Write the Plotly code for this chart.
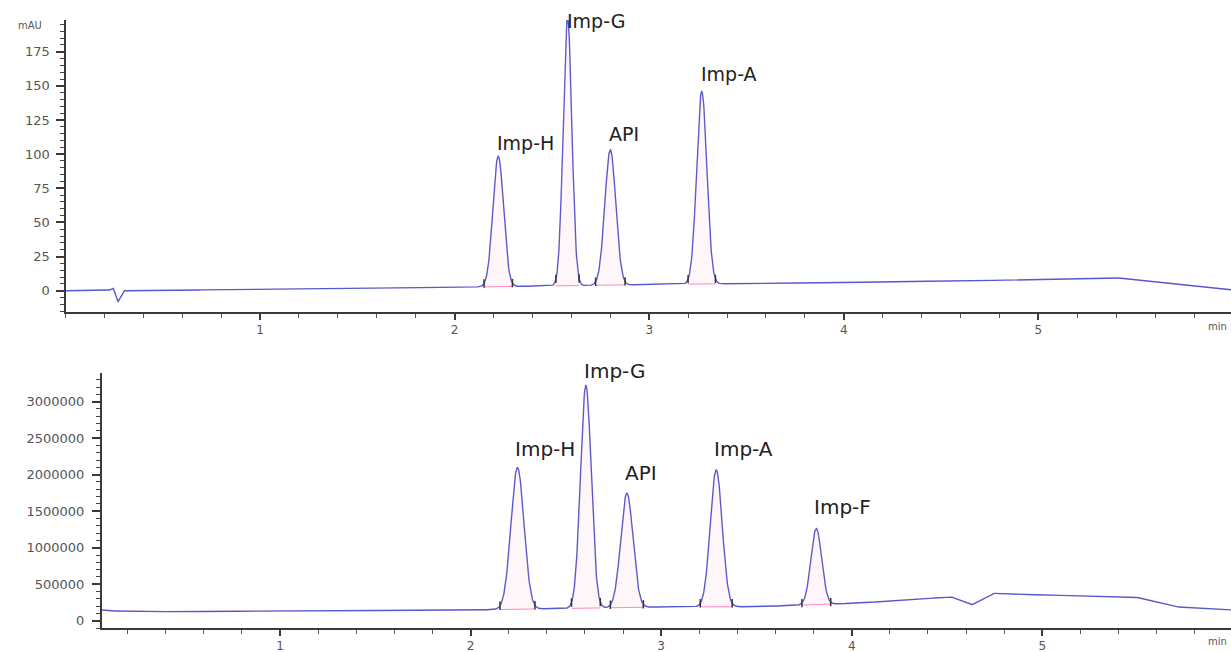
import numpy as np
import plotly.graph_objects as go

# ---------------- data ----------------
# Top chromatogram (UV, mAU)
top_names = ["Imp-H", "Imp-G", "API", "Imp-A"]
top_rt = [2.224, 2.58, 2.80, 3.27]          # retention time, min
top_height = [95.5, 197.0, 99.0, 141.0]     # height above baseline, mAU
top_sigma = [0.027, 0.022, 0.028, 0.026]    # peak width (sigma), min
top_label_y = [98.5, 188.0, 105.0, 149.0]   # label bottom, mAU
top_base_t = [0.0, 0.22, 0.245, 0.27, 0.30, 1.0, 2.0, 3.0, 4.0, 5.0, 5.4, 6.0]
top_base_v = [0.0, 0.0, 2.0, -8.0, 0.0, 1.0, 2.5, 4.5, 6.0, 8.0, 9.5, 0.5]

# Bottom chromatogram (MS, counts)
bot_names = ["Imp-H", "Imp-G", "API", "Imp-A", "Imp-F"]
bot_rt = [2.246, 2.605, 2.82, 3.289, 3.814]
bot_height = [1940000, 3050000, 1565000, 1875000, 1040000]
bot_sigma = [0.034, 0.028, 0.032, 0.031, 0.028]
bot_label_y = [2160000, 3230000, 1830000, 2160000, 1360000]
bot_base_t = [0.066, 0.1, 0.3, 2.0, 3.0, 3.5, 4.0, 4.3, 4.52, 4.63, 4.74, 5.0, 5.48, 5.69, 6.0]
bot_base_v = [146000, 135000, 123000, 147000, 188000, 192000, 238000, 283000, 329000,
              215000, 375000, 352000, 329000, 192000, 147000]

top_yticks = [0, 25, 50, 75, 100, 125, 150, 175]
bot_yticks = [0, 500000, 1000000, 1500000, 2000000, 2500000, 3000000]
x_ticks = [1, 2, 3, 4, 5]

# ---------------- build curves ----------------
def build(t, rts, hs, sg, bt, bv):
    base = np.interp(t, bt, bv)
    y = base.copy()
    for r, h, s in zip(rts, hs, sg):
        y = y + h * np.exp(-0.5 * ((t - r) / s) ** 2)
    return base, y

t_top = np.linspace(0.0, 5.99, 3000)
t_bot = np.linspace(0.066, 5.99, 3000)
base_top, y_top = build(t_top, top_rt, top_height, top_sigma, top_base_t, top_base_v)
base_bot, y_bot = build(t_bot, bot_rt, bot_height, bot_sigma, bot_base_t, bot_base_v)

LINE = "rgb(88,88,205)"
PINK = "rgba(255,120,190,0.9)"
AX = "#3a3a3a"
TXT = "#555555"
FONT = "DejaVu Sans"

fig = go.Figure()

def add_panel(t, base, y, rts, sg, xa, ya):
    fig.add_trace(go.Scatter(x=t, y=y, mode="lines", line=dict(color=LINE, width=1.4),
                             xaxis=xa, yaxis=ya, showlegend=False, hoverinfo="skip"))
    for r, s in zip(rts, sg):
        a, b = r - 2.7 * s, r + 2.7 * s
        m = (t >= a) & (t <= b)
        fig.add_trace(go.Scatter(x=t[m], y=base[m], mode="lines", line=dict(color=PINK, width=1),
                                 xaxis=xa, yaxis=ya, showlegend=False, hoverinfo="skip"))
        fig.add_trace(go.Scatter(x=t[m], y=y[m], mode="lines", line=dict(width=0),
                                 fill="tonexty", fillcolor="rgba(255,150,200,0.09)",
                                 xaxis=xa, yaxis=ya, showlegend=False, hoverinfo="skip"))
        fig.add_trace(go.Scatter(x=[a, b], y=list(np.interp([a, b], t, y)), mode="markers",
                                 marker=dict(symbol="line-ns", size=6, line=dict(color="#333", width=1.5)),
                                 xaxis=xa, yaxis=ya, showlegend=False, hoverinfo="skip"))

add_panel(t_top, base_top, y_top, top_rt, top_sigma, "x", "y")
add_panel(t_bot, base_bot, y_bot, bot_rt, bot_sigma, "x2", "y2")

for n, r, ly in zip(top_names, top_rt, top_label_y):
    fig.add_annotation(x=r, y=ly, xref="x", yref="y", text=n, showarrow=False,
                       xanchor="left", yanchor="bottom", xshift=-3,
                       font=dict(family=FONT, size=19, color="#222"))
for n, r, ly in zip(bot_names, bot_rt, bot_label_y):
    fig.add_annotation(x=r, y=ly, xref="x2", yref="y2", text=n, showarrow=False,
                       xanchor="left", yanchor="bottom", xshift=-4,
                       font=dict(family=FONT, size=20, color="#222"))

# unit labels
fig.add_annotation(x=30 / 1231, y=1 - 25 / 652, xref="paper", yref="paper", text="mAU",
                   showarrow=False, xanchor="center", yanchor="middle",
                   font=dict(family=FONT, size=10, color=TXT))
for yy in (1 - 326 / 652, 1 - 641 / 652):
    fig.add_annotation(x=1229 / 1231, y=yy, xref="paper", yref="paper", text="min",
                       showarrow=False, xanchor="right", yanchor="middle",
                       font=dict(family=FONT, size=10, color=TXT))

xcommon = dict(showgrid=False, zeroline=False, showline=True, linecolor=AX, linewidth=2,
               ticks="outside", ticklen=6, tickwidth=1.5, tickcolor=AX,
               tickvals=x_ticks, ticktext=[str(v) for v in x_ticks],
               tickfont=dict(family=FONT, size=12, color=TXT),
               minor=dict(ticks="outside", ticklen=4, tickwidth=1.2, tickcolor="#555", dtick=0.2))

fig.update_layout(
    width=1231, height=652, margin=dict(l=0, r=0, t=0, b=0),
    paper_bgcolor="white", plot_bgcolor="white", showlegend=False,
    xaxis=dict(domain=[65.5 / 1231, 1], range=[0.0, 5.99], anchor="y", **xcommon),
    yaxis=dict(domain=[1 - 312 / 652, 1 - 20 / 652], range=[-15.6, 198.2], anchor="x",
               showgrid=False, zeroline=False, showline=True, linecolor=AX, linewidth=2,
               ticks="outside", ticklen=8, tickwidth=1.5, tickcolor=AX,
               tickvals=top_yticks, ticktext=[str(v) for v in top_yticks],
               tickfont=dict(family=FONT, size=13, color=TXT), ticklabelstandoff=3,
               minor=dict(ticks="outside", ticklen=4, tickwidth=1.2, tickcolor="#444", dtick=5)),
    xaxis2=dict(domain=[102 / 1231, 1], range=[0.066, 5.99], anchor="y2", **xcommon),
    yaxis2=dict(domain=[1 - 628 / 652, 1 - 373 / 652], range=[-100000, 3393000], anchor="x2",
                showgrid=False, zeroline=False, showline=True, linecolor=AX, linewidth=2,
                ticks="outside", ticklen=8, tickwidth=1.5, tickcolor=AX,
                tickvals=bot_yticks, ticktext=[str(v) for v in bot_yticks],
                tickfont=dict(family=FONT, size=13, color=TXT), ticklabelstandoff=5,
                minor=dict(ticks="outside", ticklen=4, tickwidth=1.2, tickcolor="#444", dtick=100000)),
)

fig.write_html("out.html", config={"displayModeBar": False},
               post_script="document.body.style.margin='0';document.body.style.overflow='hidden';")
